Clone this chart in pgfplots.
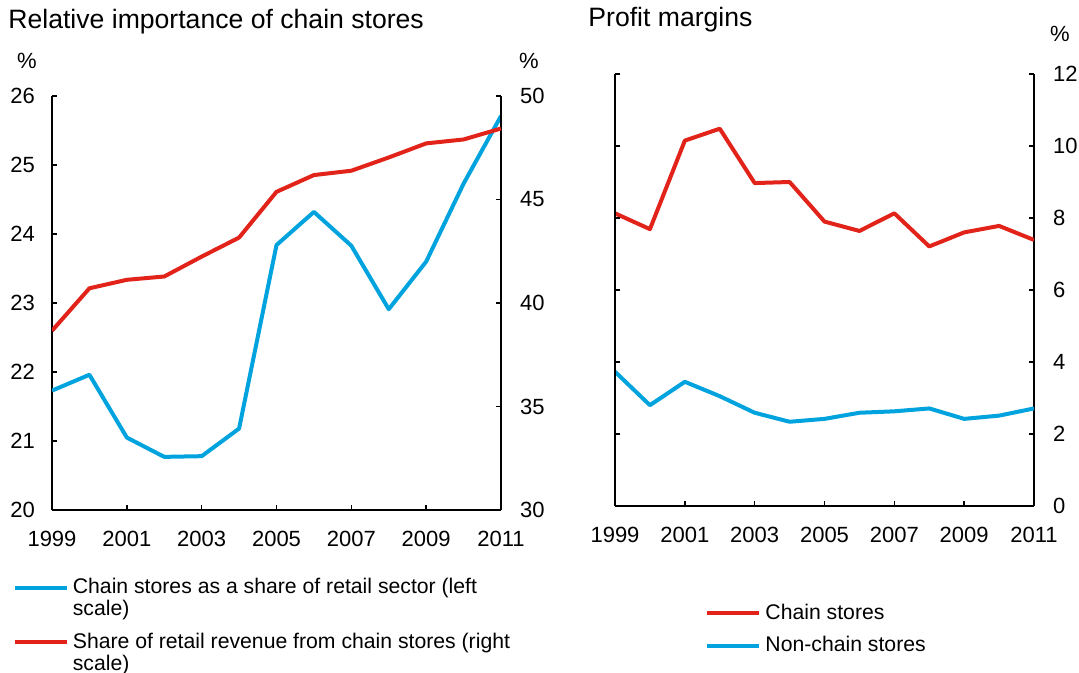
\documentclass[border=0pt]{standalone}
\usepackage{pgfplots}
\pgfplotsset{compat=1.18}
\usepackage{fontspec}
\setmainfont{Liberation Sans}

\definecolor{chainred}{HTML}{E2231A}
\definecolor{chainblue}{HTML}{00A3DE}

\pgfplotsset{
  rba/.style={
    scale only axis,
    anchor=south west,
    xmin=1999, xmax=2011,
    xtick={1999,2001,...,2011},
    tick align=inside,
    major tick length=2.5pt,
    axis line style={line width=0.75pt},
    tick style={line width=0.75pt, black},
    every tick label/.append style={font=\fontsize{11}{12}\selectfont},
    /pgf/number format/assume math mode=true,
    xticklabel style={/pgf/number format/1000 sep={}, yshift=-7pt},
    legend cell align=left,
    legend image code/.code={\draw[#1] (0pt,0pt) -- (26pt,0pt);},
    legend style={draw=none, fill=none, font=\fontsize{10.6}{11}\selectfont,
      cells={align=left}, row sep=3pt, inner sep=0pt},
    every axis plot/.append style={line width=2pt, line join=round},
  },
  lefttl/.style={yticklabel style={xshift=-5pt}},
  righttl/.style={yticklabel style={xshift=6pt}},
}

\begin{document}
\begin{tikzpicture}
\path[use as bounding box] (0,0) rectangle (539.5pt,336.5pt);

% titles and unit labels
\node[anchor=base west, font=\fontsize{13.3}{15}\selectfont, inner sep=0pt] at (4pt,322pt) {Relative importance of chain stores};
\node[anchor=base west, font=\fontsize{13.3}{15}\selectfont, inner sep=0pt] at (294pt,323pt) {Profit margins};
\node[anchor=base, font=\fontsize{11}{12}\selectfont, inner sep=0pt] at (13.5pt,302pt) {\%};
\node[anchor=base, font=\fontsize{11}{12}\selectfont, inner sep=0pt] at (264.5pt,302pt) {\%};
\node[anchor=base, font=\fontsize{11}{12}\selectfont, inner sep=0pt] at (530pt,315.5pt) {\%};

% left panel, left scale
\begin{axis}[rba, lefttl,
  at={(26pt,81.5pt)}, width=224.5pt, height=207pt,
  ymin=20, ymax=26, ytick={20,21,...,26},
  axis x line*=bottom, axis y line*=left,
  legend image code/.code={\draw[#1] (0pt,5.5pt) -- (26pt,5.5pt);},
  legend style={at={(-0.088,-0.155)}, anchor=north west},
]
\addplot[chainblue] coordinates {
  (1999,21.73)(2000,21.96)(2001,21.05)(2002,20.77)(2003,20.78)(2004,21.18)
  (2005,23.84)(2006,24.32)(2007,23.83)(2008,22.91)(2009,23.60)(2010,24.73)(2011,25.71)};
\addlegendentry{Chain stores as a share of retail sector (left\\scale)}
\addlegendimage{chainred, line width=2pt}
\addlegendentry{Share of retail revenue from chain stores (right\\scale)}
\end{axis}

% left panel, right scale
\begin{axis}[rba, righttl,
  at={(26pt,81.5pt)}, width=224.5pt, height=207pt,
  ymin=30, ymax=50, ytick={30,35,...,50},
  axis x line=none, axis y line*=right,
]
\addplot[chainred] coordinates {
  (1999,38.66)(2000,40.71)(2001,41.12)(2002,41.28)(2003,42.24)(2004,43.16)
  (2005,45.37)(2006,46.18)(2007,46.39)(2008,47.03)(2009,47.71)(2010,47.90)(2011,48.43)};
\end{axis}

% right panel
\begin{axis}[rba, righttl,
  at={(307.5pt,83.5pt)}, width=209.5pt, height=216pt,
  ymin=0, ymax=12, ytick={0,2,...,12},
  axis x line*=bottom, axis y line*=right,
  legend style={at={(0.215,-0.217)}, anchor=north west},
]
\addplot[chainred] coordinates {
  (1999,8.13)(2000,7.69)(2001,10.15)(2002,10.48)(2003,8.97)(2004,9.00)
  (2005,7.90)(2006,7.64)(2007,8.13)(2008,7.21)(2009,7.60)(2010,7.78)(2011,7.39)};
\addlegendentry{Chain stores}
\addplot[chainblue] coordinates {
  (1999,3.73)(2000,2.80)(2001,3.45)(2002,3.05)(2003,2.59)(2004,2.34)
  (2005,2.42)(2006,2.59)(2007,2.63)(2008,2.71)(2009,2.42)(2010,2.51)(2011,2.71)};
\addlegendentry{Non-chain stores}
\end{axis}
% left spine of right panel, ticks only
\begin{axis}[rba,
  at={(307.5pt,83.5pt)}, width=209.5pt, height=216pt,
  ymin=0, ymax=12, ytick={0,2,...,12}, yticklabels={},
  axis x line=none, axis y line*=left,
]
\end{axis}
\end{tikzpicture}
\end{document}
